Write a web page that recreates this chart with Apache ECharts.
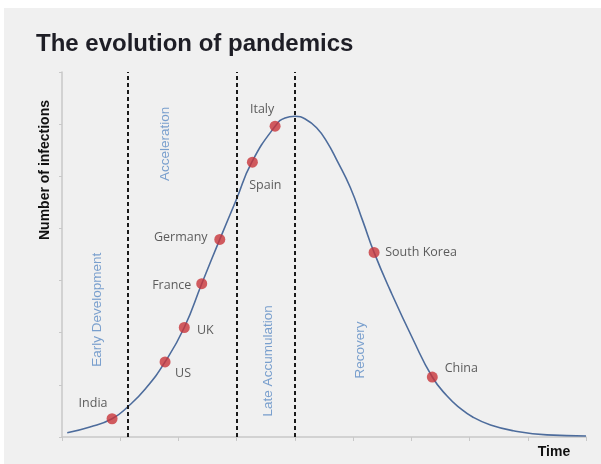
<!DOCTYPE html>
<html>
<head>
<meta charset="utf-8">
<script src="https://cdn.jsdelivr.net/npm/echarts@6/dist/echarts.min.js"></script>
<style>
  html, body { margin: 0; padding: 0; background: #ffffff; }
  #chart { width: 601px; height: 464px; }
</style>
</head>
<body>
<div id="chart"></div>
<script>
// curve (x = time ticks, y = infection ticks)
var curveX = [0.09, 0.48, 0.86, 1.13, 1.43, 1.77, 2.10, 2.40, 2.71, 2.99, 3.26, 3.66, 3.83, 4.00,
              4.19, 4.38, 4.55, 4.72, 4.95, 5.17, 5.36, 5.63, 6.03, 6.36, 6.61, 6.83, 7.06, 7.36, 7.75, 8.33, 9.00]
var curveY = [0.08, 0.19, 0.35, 0.58, 0.92, 1.44, 2.10, 2.94, 3.79, 4.54, 5.27, 5.96, 6.12, 6.15,
              6.09, 5.92, 5.66, 5.31, 4.79, 4.13, 3.54, 2.83, 1.87, 1.15, 0.79, 0.56, 0.38, 0.23, 0.12, 0.04, 0.02]

var countries = ['India', 'US', 'UK', 'France', 'Germany', 'Spain', 'Italy', 'South Korea', 'China']
var countryX = [0.86, 1.77, 2.10, 2.40, 2.71, 3.27, 3.66, 5.36, 6.36]
var countryY = [0.35, 1.44, 2.10, 2.94, 3.79, 5.27, 5.96, 3.54, 1.15]

var phaseNames = ['Early Development', 'Acceleration', 'Late Accumulation', 'Recovery']
var phaseX = [0.60, 1.77, 3.54, 5.12]
var phaseY = [2.44, 5.62, 1.46, 1.67]

var boundaries = [1.13, 3.0, 4.0]

// label offsets from the dot centre (px)
var labelOffset = {
  'India': [-19, -15], 'US': [18, 12], 'UK': [21, 3], 'France': [-30, 2],
  'Germany': [-39, -2], 'Spain': [13, 23], 'Italy': [-13, -17],
  'South Korea': [47, 0], 'China': [29, -9]
}

var dotSize = 11
var chart = echarts.init(document.getElementById('chart'))

var option = {
  animation: false,
  backgroundColor: '#ffffff',
  title: {
    text: 'The evolution of pandemics',
    left: 31,
    top: 27,
    textStyle: { fontFamily: 'Liberation Sans', fontSize: 24, fontWeight: 'bold', color: '#1e1e26' }
  },
  graphic: [
    { type: 'rect', z: -100, shape: { x: 4, y: 8, width: 597, height: 456 }, style: { fill: '#f0f0f0' } },
    { type: 'text', x: 45, y: 170, rotation: Math.PI / 2,
      style: { text: 'Number of infections', fontFamily: 'Liberation Sans', fontSize: 14, fontWeight: 'bold',
               fill: '#111', align: 'center', verticalAlign: 'middle' } },
    { type: 'text', x: 554, y: 452,
      style: { text: 'Time', fontFamily: 'Liberation Sans', fontSize: 14, fontWeight: 'bold',
               fill: '#111', align: 'center', verticalAlign: 'middle' } }
  ],
  grid: { left: 62, right: 15, top: 72, bottom: 27 },
  xAxis: {
    type: 'value', min: 0, max: 9, interval: 1,
    axisLine: { lineStyle: { color: '#c8c8c8', width: 1.5 } },
    axisTick: { show: true, length: 4, lineStyle: { color: '#c8c8c8' } },
    axisLabel: { show: false },
    splitLine: { show: false }
  },
  yAxis: {
    type: 'value', min: 0, max: 7, interval: 1,
    axisLine: { show: true, lineStyle: { color: '#c8c8c8', width: 1.5 } },
    axisTick: { show: true, length: 3, lineStyle: { color: '#c8c8c8' } },
    axisLabel: { show: false },
    splitLine: { show: false }
  },
  series: [
    {
      type: 'line',
      data: curveX.map(function (x, i) { return [x, curveY[i]] }),
      smooth: 0.5,
      showSymbol: false,
      lineStyle: { color: '#4d6c9c', width: 1.6 },
      z: 3,
      markLine: {
        silent: true,
        symbol: 'none',
        label: { show: false },
        lineStyle: { color: '#1a1a1a', width: 2, type: [4, 3] },
        data: boundaries.map(function (b) { return { xAxis: b } })
      }
    },
    {
      type: 'scatter',
      data: countries.map(function (c, i) { return { name: c, value: [countryX[i], countryY[i]] } }),
      symbolSize: dotSize,
      itemStyle: { color: '#c8353a' },
      z: 5,
      label: {
        show: true,
        formatter: '{b}',
        fontFamily: 'Open Sans',
        fontSize: 12.5,
        color: '#363636',
        align: 'center',
        verticalAlign: 'middle'
      }
    },
    {
      type: 'scatter',
      data: phaseNames.map(function (p, i) { return { name: p, value: [phaseX[i], phaseY[i]] } }),
      symbolSize: 0,
      silent: true,
      label: {
        show: true,
        formatter: '{b}',
        position: 'inside',
        rotate: 90,
        fontFamily: 'Liberation Sans',
        fontSize: 13.5,
        color: '#5b8bc4'
      }
    }
  ]
}

// per-point label placement
option.series[1].data.forEach(function (d) {
  var o = labelOffset[d.name]
  d.label = { position: [dotSize / 2 + o[0], dotSize / 2 + o[1]] }
})

chart.setOption(option)
</script>
</body>
</html>
